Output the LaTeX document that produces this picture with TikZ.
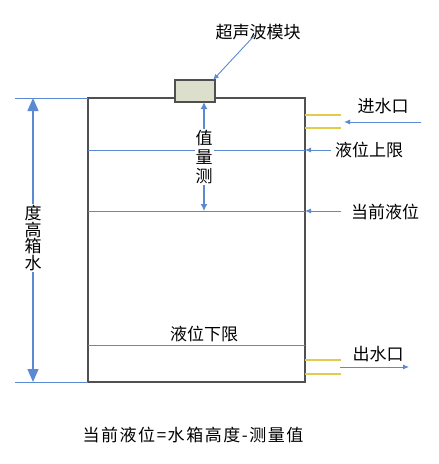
\documentclass[tikz,border=0pt]{standalone}
\usepackage{fontspec}
\setmainfont{Noto Sans CJK SC}
\usepackage{tikz}
\usetikzlibrary{positioning, arrows.meta}
\definecolor{line_blue}{HTML}{5B8AD2}
\definecolor{pipe_yellow}{HTML}{E5CB4C}
\definecolor{box_fill}{HTML}{DCDFCB}
\definecolor{tank_gray}{HTML}{505050}
\begin{document}
\begin{tikzpicture}
    [
        x=1pt, y=-1pt, inner sep=0pt, outer sep=0pt,
        tank_box/.style={rectangle, draw=tank_gray, line width=1.3pt, minimum width=217pt, minimum height=284pt},
        sensor_box/.style={rectangle, draw=tank_gray, fill=box_fill, line width=1.3pt, minimum width=40pt, minimum height=22pt},
        label_text/.style={font=\fontsize{17}{19}\selectfont, text=black},
        stack_text/.style={font=\fontsize{17}{19}\selectfont, align=center, fill=white, inner sep=1pt},
        level_line/.style={line width=0.9pt, color=line_blue},
        pipe_line/.style={line width=1.2pt, color=pipe_yellow},
    ]
        \useasboundingbox (0,0) rectangle (439,464);
        \node[tank_box] (tank) at (196.5,240) {};
        \node[sensor_box] (sensor) at (195,91) {};
        \node[label_text] (sensor_label) at (258,32) {超声波模块};
        \coordinate (upper_l) at (88,150);
        \coordinate (upper_r) at (305,150);
        \coordinate (current_l) at (88,211);
        \coordinate (current_r) at (305,211);
        \coordinate (lower_l) at (88,345);
        \coordinate (lower_r) at (305,345);
        \coordinate (meas_bottom) at (204,211);
        \coordinate (height_top) at (15,98);
        \coordinate (height_bottom) at (15,382);
        \coordinate (arrow_top) at (33,98);
        \coordinate (arrow_bottom) at (33,382);
        \coordinate (in_a) at (305,115);
        \coordinate (in_a_end) at (341,115);
        \coordinate (in_b) at (305,128);
        \coordinate (in_b_end) at (341,128);
        \coordinate (out_a) at (305,360);
        \coordinate (out_a_end) at (341,360);
        \coordinate (out_b) at (305,374);
        \coordinate (out_b_end) at (341,374);
        \coordinate (in_start) at (421,122);
        \coordinate (in_tip) at (344,122);
        \coordinate (out_start) at (340,367);
        \coordinate (out_tip) at (409,367);
        \coordinate (current_start) at (341,211);
        \node[label_text] (in_label) at (383,106) {进水口};
        \node[label_text] (upper_label) at (369,150) {液位上限};
        \node[label_text] (current_label) at (385,212) {当前液位};
        \node[label_text] (lower_label) at (204,334) {液位下限};
        \node[label_text] (out_label) at (378,354) {出水口};
        \node[label_text, font=\fontsize{17}{19}\selectfont\addfontfeature{LetterSpace=9}] (formula) at (193,435) {当前液位=水箱高度-测量值};
        \draw[level_line] (height_top) -- (tank.north west);
        \draw[level_line] (height_bottom) -- (tank.south west);
        \draw[level_line] (upper_l) -- (upper_r);
        \draw[level_line] (current_l) -- (current_r);
        \draw[level_line] (lower_l) -- (lower_r);
        \draw[level_line, line width=1.2pt, {Triangle[width=11pt,length=13pt]}-{Triangle[width=11pt,length=13pt]}] (arrow_top) -- (arrow_bottom);
        \node[stack_text, font=\fontsize{17}{16.5}\selectfont] (height_label) at (33,238) {度\\高\\箱\\水};
        \draw[level_line, line width=1.2pt, {Latex[width=7pt,length=7pt]}-{Latex[width=7pt,length=7pt]}] ([xshift=9pt]sensor.south) -- (meas_bottom);
        \node[stack_text, font=\fontsize{17}{19}\selectfont] (meas_label) at (204,157) {值\\量\\测};
        \draw[pipe_line] (in_a) -- (in_a_end);
        \draw[pipe_line] (in_b) -- (in_b_end);
        \draw[pipe_line] (out_a) -- (out_a_end);
        \draw[pipe_line] (out_b) -- (out_b_end);
        \draw[level_line, -{Latex[width=5pt,length=6pt]}] (in_start) -- (in_tip);
        \draw[level_line, -{Latex[width=5pt,length=6pt]}] ([xshift=-4pt]upper_label.west) -- (upper_r);
        \draw[level_line, -{Latex[width=5pt,length=6pt]}] (current_start) -- (current_r);
        \draw[level_line, -{Latex[width=5pt,length=6pt]}] (out_start) -- (out_tip);
        \draw[level_line, -{Latex[width=5pt,length=6pt]}] ([xshift=-3pt,yshift=5pt]sensor_label.south) -- ([xshift=-2pt]sensor.north east);
    \end{tikzpicture}
\end{document}
